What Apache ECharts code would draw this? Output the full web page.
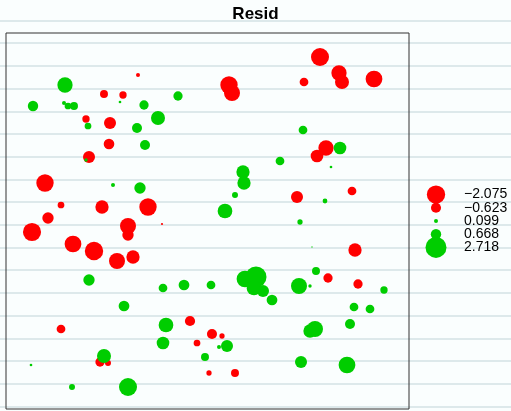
<!DOCTYPE html>
<html>
<head>
<meta charset="utf-8">
<title>Resid</title>
<script src="https://cdn.jsdelivr.net/npm/echarts@6/dist/echarts.min.js"></script>
<style>
  html, body { margin: 0; padding: 0; background: #fafefe; }
  #chart { width: 511px; height: 411px; }
</style>
</head>
<body>
<div id="chart"></div>
<script>
// Sample locations (easting, northing in plot units) and model residuals
const eastings = [
  132, 98, 117, 80, 104, 103, 83, 39, 55, 96, 142, 42, 122, 26, 122, 156, 67, 88, 111, 127,
  55, 184, 191, 206, 216, 94, 102, 203, 229, 314, 333, 336, 298, 368, 223, 226, 320, 311, 291, 346,
  349, 322, 352,
  59, 172, 27, 58, 62, 68, 114, 138, 152, 82, 131, 139, 80, 107, 134, 83, 157, 178, 205, 118,
  160, 157, 199, 98, 25, 66, 122, 213, 221, 304, 309, 344, 295, 341, 294, 306, 239, 250, 248, 257,
  266, 293, 304, 310, 378, 348, 364, 297, 334, 274, 325, 237, 238, 229, 319, 219
];
const northings = [
  334, 315, 314, 290, 286, 265, 252, 226, 204, 202, 202, 191, 183, 177, 174, 185, 165, 158, 148, 152,
  80, 88, 66, 75, 73, 47, 46, 36, 36, 352, 336, 327, 327, 330, 324, 316, 261, 253, 212, 218,
  159, 131, 125,
  324, 313, 303, 306, 303, 303, 307, 304, 291, 283, 281, 264, 249, 224, 221, 129, 121, 124, 124, 103,
  84, 66, 52, 53, 44, 22, 22, 62, 63, 78, 80, 85, 47, 44, 187, 162, 130, 132, 121, 118,
  109, 123, 123, 138, 119, 102, 100, 279, 261, 248, 242, 237, 226, 214, 208, 198
];
const residuals = [
  -0.10, -0.39, -0.33, -0.33, -0.89, -0.70, -0.89, -1.85, -0.28, -1.09, -1.85, -0.79, -1.58, -2.02, -0.79, -0.03, -1.72, -2.075, -1.58, -1.09,
  -0.47, -0.64, -0.28, -0.623, -0.17, -0.53, -0.22, -0.17, -0.39, -2.00, -1.44, -1.21, -0.47, -1.72, -1.85, -1.58, -1.44, -0.99, -0.89, -0.47,
  -1.09, -0.53, -0.53,
  1.44, 0.53, 0.668, 0.10, 0.28, 0.39, 0.045, 0.53, 1.21, 0.28, 0.62, 0.62, 0.07, 0.10, 0.79, 0.79, 0.47, 0.71, 0.47, 0.71,
  1.33, 0.99, 0.39, 1.21, 0.045, 0.22, 2.00, 0.10, 0.89, 1.09, 1.58, 0.62, 0.89, 1.72, 0.17, 0.01, 1.72, 2.718, 1.33, 0.89,
  0.71, 1.58, 0.07, 0.39, 0.33, 0.47, 0.47, 0.47, 0.99, 0.47, 0.045, 1.09, 1.09, 0.22, 0.14, 1.33
];

// Legend classes: min, quartiles, max of the residuals
const legendValues = [-2.075, -0.623, 0.099, 0.668, 2.718];

const NEG_COLOR = '#ff0000';
const POS_COLOR = '#00cd00';
const MAX_DIAMETER = 21;

const maxAbs = Math.max(...residuals.map(Math.abs));
// Bubble area proportional to |residual|
const bubbleSize = v => MAX_DIAMETER * Math.sqrt(Math.abs(v) / maxAbs);
const fmt = v => (v < 0 ? '\u2212' : '') + Math.abs(v).toFixed(3);

const negData = [], posData = [];
residuals.forEach((r, i) => {
  (r < 0 ? negData : posData).push([eastings[i], northings[i], r]);
});

// Faint ruled background lines
const rules = [];
for (let k = 0; k < 18; k++) {
  const y = Math.round(20.7 + 22.7 * k);
  rules.push({
    type: 'line', silent: true, z: -10,
    shape: { x1: 0, y1: y, x2: 511, y2: y },
    style: { stroke: '#dde9eb', lineWidth: 2 }
  });
}

const chart = echarts.init(document.getElementById('chart'), null, { renderer: 'canvas' });
chart.setOption({
  backgroundColor: '#fafefe',
  animation: false,
  title: {
    text: 'Resid',
    left: 'center',
    top: 2,
    padding: [4, 0, 4, 4],
    textStyle: { fontFamily: 'Liberation Sans', fontWeight: 'bold', fontSize: 17, color: '#000' }
  },
  graphic: rules,
  grid: [
    { left: 6, top: 33, width: 403, height: 376, show: true, borderColor: '#333', borderWidth: 1, backgroundColor: 'transparent' },
    { left: 426, top: 188, width: 20, height: 66 }
  ],
  xAxis: [
    { gridIndex: 0, type: 'value', min: 0, max: 403, show: false },
    { gridIndex: 1, type: 'value', min: -1, max: 1, show: false }
  ],
  yAxis: [
    { gridIndex: 0, type: 'value', min: 0, max: 376, show: false },
    {
      gridIndex: 1, type: 'category', inverse: true, position: 'right',
      data: legendValues.map(fmt),
      axisLine: { show: false }, axisTick: { show: false }, splitLine: { show: false },
      axisLabel: { interval: 0, margin: 18, fontFamily: 'Liberation Sans', fontSize: 14, color: '#000' }
    }
  ],
  series: [
    {
      name: 'negative', type: 'scatter', xAxisIndex: 0, yAxisIndex: 0,
      data: negData, symbolSize: d => bubbleSize(d[2]),
      itemStyle: { color: NEG_COLOR, opacity: 1 }, z: 2
    },
    {
      name: 'positive', type: 'scatter', xAxisIndex: 0, yAxisIndex: 0,
      data: posData, symbolSize: d => bubbleSize(d[2]),
      itemStyle: { color: POS_COLOR, opacity: 1 }, z: 3
    },
    {
      name: 'classes', type: 'scatter', xAxisIndex: 1, yAxisIndex: 1,
      data: legendValues.map((v, i) => ({
        value: [0, i, v],
        itemStyle: { color: v < 0 ? NEG_COLOR : POS_COLOR, opacity: 1 }
      })),
      symbolSize: d => bubbleSize(d[2]), z: 3
    }
  ]
});
</script>
</body>
</html>
